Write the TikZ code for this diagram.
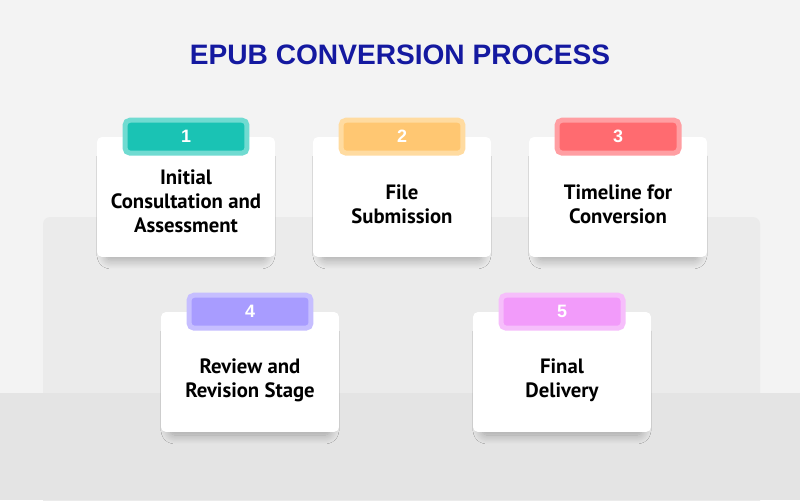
\documentclass[tikz,border=0pt]{standalone}
\usepackage{fontspec}
\setmainfont{Liberation Sans}
\newfontfamily\cardfont{PT Sans}
\usepackage{tikz}
\usetikzlibrary{positioning,calc,shadows.blur}
\definecolor{bgtop}{HTML}{F3F3F3}
\definecolor{bgpanel}{HTML}{EBEBEB}
\definecolor{bgband}{HTML}{E4E4E4}
\definecolor{titleblue}{HTML}{1419A0}
\definecolor{tealin}{HTML}{1AC3B4}
\definecolor{tealout}{HTML}{70DBD1}
\definecolor{orangein}{HTML}{FFC772}
\definecolor{orangeout}{HTML}{FFDBA0}
\definecolor{redin}{HTML}{FF6B70}
\definecolor{redout}{HTML}{FF9EA2}
\definecolor{violetin}{HTML}{A89CFF}
\definecolor{violetout}{HTML}{C6BEFF}
\definecolor{pinkin}{HTML}{F29BFA}
\definecolor{pinkout}{HTML}{F6BEFB}

\begin{document}
\begin{tikzpicture}[
  x=0.02cm,y=-0.02cm,
  card/.style={fill=white,rounded corners=0.1cm,minimum width=3.56cm,minimum height=2.4cm,
               blur shadow={shadow xshift=0pt,shadow yshift=-0.2cm,shadow blur radius=0.2cm,
                            shadow blur steps=16,shadow opacity=30,shadow scale=0.9}},
  cardtext/.style={font=\cardfont\bfseries\fontsize{11.8}{13.6}\selectfont,align=center,text=black},
  tab/.style={rounded corners=0.1cm,line width=0.1cm,minimum width=2.44cm,minimum height=0.66cm,
              inner sep=0pt,font=\bfseries\fontsize{10.2}{11}\selectfont,text=white},
  title/.style={font=\bfseries\fontsize{16}{18}\selectfont,text=titleblue}
]
  \useasboundingbox (0,0) rectangle (800,500);
  \clip (0,0) rectangle (800,500);

  % Background
  \fill[bgtop] (0,0) rectangle (800,500);
  \fill[bgpanel,rounded corners=0.14cm] (43,217) rectangle (760,530);
  \fill[bgband] (0,393) rectangle (800,500);

  % Title
  \node[title] (heading) at (400,55) {EPUB CONVERSION PROCESS};

  % Row 1
  \node[card] (card1) at (186,197) {};
  \node[card] (card2) at (402,197) {};
  \node[card] (card3) at (618,197) {};

  % Row 2
  \node[card] (card4) at (250,372) {};
  \node[card] (card5) at (562,372) {};

  % Number tabs
  \node[tab,draw=tealout,fill=tealin] (tab1) at (card1.north) {1};
  \node[tab,draw=orangeout,fill=orangein] (tab2) at (card2.north) {2};
  \node[tab,draw=redout,fill=redin] (tab3) at (card3.north) {3};
  \node[tab,draw=violetout,fill=violetin] (tab4) at (card4.north) {4};
  \node[tab,draw=pinkout,fill=pinkin] (tab5) at (card5.north) {5};

  % Step labels
  \node[cardtext] (step1) at ($(card1.center)+(0,4)$) {Initial\\Consultation and\\Assessment};
  \node[cardtext] (step2) at ($(card2.center)+(0,7)$) {File\\Submission};
  \node[cardtext] (step3) at ($(card3.center)+(0,7)$) {Timeline for\\Conversion};
  \node[cardtext] (step4) at ($(card4.center)+(0,8)$) {Review and\\Revision Stage};
  \node[cardtext] (step5) at ($(card5.center)+(0,8)$) {Final\\Delivery};
\end{tikzpicture}
\end{document}
